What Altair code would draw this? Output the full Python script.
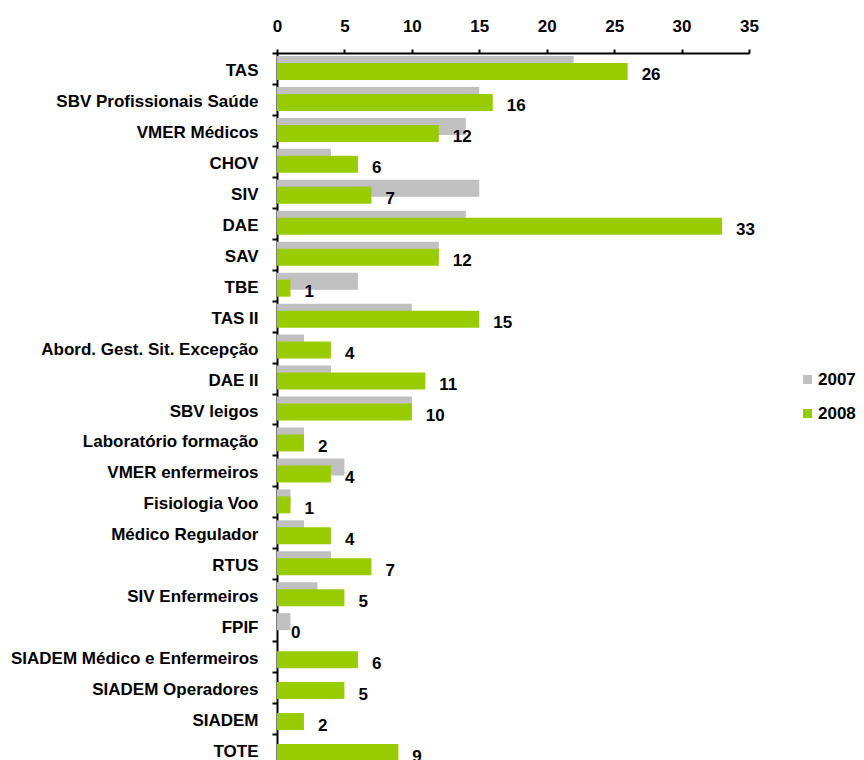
import altair as alt
import pandas as pd

categories = [
    "TAS", "SBV Profissionais Saúde", "VMER Médicos", "CHOV", "SIV", "DAE",
    "SAV", "TBE", "TAS II", "Abord. Gest. Sit. Excepção", "DAE II",
    "SBV leigos", "Laboratório formação", "VMER enfermeiros", "Fisiologia Voo",
    "Médico Regulador", "RTUS", "SIV Enfermeiros", "FPIF",
    "SIADEM Médico e Enfermeiros", "SIADEM Operadores", "SIADEM", "TOTE",
]
v2007 = [22, 15, 14, 4, 15, 14, 12, 6, 10, 2, 4, 10, 2, 5, 1, 2, 4, 3, 1, 0, 0, 0, 0]
v2008 = [26, 16, 12, 6, 7, 33, 12, 1, 15, 4, 11, 10, 2, 4, 1, 4, 7, 5, 0, 6, 5, 2, 9]
years = ["2007", "2008"]
x_ticks = [0, 5, 10, 15, 20, 25, 30, 35]

rows = []
for c, a, b in zip(categories, v2007, v2008):
    rows.append({"cat": c, "year": "2007", "value": a})
    rows.append({"cat": c, "year": "2008", "value": b})
df = pd.DataFrame(rows)

FONT = "Liberation Sans"
GRAY = "#C0C0C0"
GREEN = "#99CC00"

y = alt.Y(
    "cat:N", sort=categories, title=None,
    scale=alt.Scale(paddingInner=0, paddingOuter=0),
    axis=alt.Axis(
        tickBand="extent", tickSize=5, tickWidth=2, tickColor="black",
        domainColor="black", domainWidth=2, labelPadding=14,
        labelFontSize=17, labelFontWeight="bold", labelFont=FONT,
        labelColor="black", labelOffset=2, labelLimit=0, grid=False,
    ),
)
x = alt.X(
    "value:Q", title=None,
    scale=alt.Scale(domain=[0, 35], nice=False),
    axis=alt.Axis(
        orient="top", values=x_ticks, tickSize=4, tickWidth=2,
        tickColor="black", domainColor="black", domainWidth=2,
        labelPadding=14, labelFontSize=17, labelFontWeight="bold",
        labelFont=FONT, labelColor="black", grid=False, labelFlush=False,
    ),
)
color = alt.Color(
    "year:N", title=None,
    scale=alt.Scale(domain=years, range=[GRAY, GREEN]),
    legend=alt.Legend(
        orient="none", legendX=522, legendY=318, symbolType="square",
        symbolSize=81, symbolStrokeWidth=0, labelFontSize=17,
        labelFontWeight="bold", labelFont=FONT, labelColor="black",
        labelOffset=2, rowPadding=16, padding=0, offset=0,
    ),
)

base = alt.Chart(df)
bars07 = base.transform_filter("datum.year == '2007'").mark_bar(
    height=17, yOffset=-4
).encode(x=x, y=y, color=color)
bars08 = base.transform_filter("datum.year == '2008'").mark_bar(
    height=17, yOffset=3
).encode(x=x, y=y, color=color)
labels = base.transform_filter("datum.year == '2008'").mark_text(
    align="left", baseline="alphabetic", dx=14, dy=12, fontSize=17,
    fontWeight="bold", font=FONT, color="black"
).encode(x=x, y=y, text="value:Q")

chart = alt.layer(bars07, bars08, labels).properties(
    width=472, height=712,
    padding={"left": 269, "top": 45, "right": 107, "bottom": 0},
    autosize=alt.AutoSizeParams(type="none"),
).configure_view(stroke=None)

chart.save("out.html", embed_options={"renderer": "svg", "actions": False})
